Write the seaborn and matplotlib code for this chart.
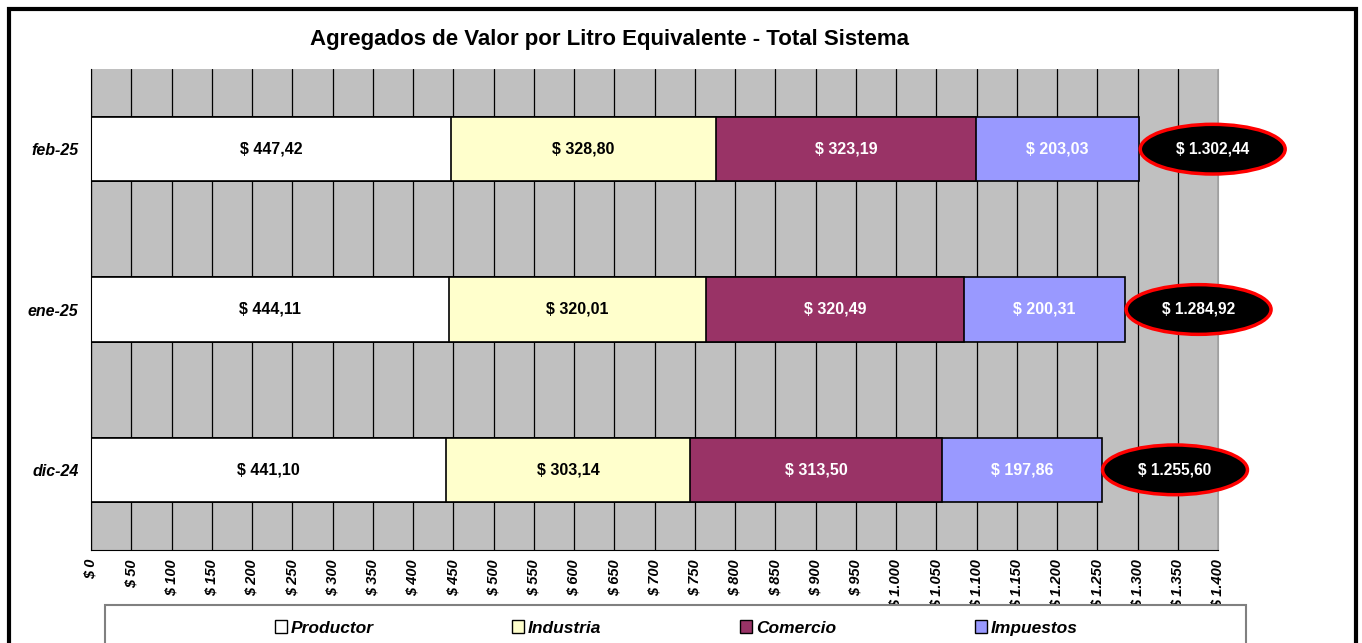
import numpy as np
import pandas as pd
import matplotlib
matplotlib.use("Agg")
import matplotlib.pyplot as plt
import seaborn as sns
from matplotlib.patches import Ellipse, Rectangle, Patch
from matplotlib.ticker import FuncFormatter

meses = ["feb-25", "ene-25", "dic-24"]
productor = [447.42, 444.11, 441.10]
industria = [328.80, 320.01, 303.14]
comercio = [323.19, 320.49, 313.50]
impuestos = [203.03, 200.31, 197.86]

segmentos = ["Productor", "Industria", "Comercio", "Impuestos"]
colores = ["#FFFFFF", "#FFFFCC", "#993366", "#9999FF"]
color_texto = ["black", "black", "white", "white"]


def fmt_pesos(v, dec=2):
    s = f"{v:,.{dec}f}".replace(",", "X").replace(".", ",").replace("X", ".")
    return f"$ {s}"


df = pd.DataFrame({"mes": meses, "Productor": productor, "Industria": industria,
                   "Comercio": comercio, "Impuestos": impuestos})
acum = df[segmentos].cumsum(axis=1)
for s in segmentos:
    df["cum_" + s] = acum[s]
df["total"] = acum["Impuestos"]

sns.set_style("white")
plt.rcParams["font.family"] = ["Liberation Sans", "DejaVu Sans"]
plt.rcParams["text.color"] = "black"
plt.rcParams["xtick.color"] = "black"
plt.rcParams["ytick.color"] = "black"
plt.rcParams["axes.labelcolor"] = "black"

fig = plt.figure(figsize=(13.62, 6.43), dpi=100)
ax = fig.add_axes([91 / 1362, 1 - 550 / 643, (1218 - 91) / 1362, (550 - 69) / 643])
ax.set_facecolor("#C0C0C0")

# stacked bars: draw cumulative totals from largest to smallest
for s, c in reversed(list(zip(segmentos, colores))):
    sns.barplot(data=df, x="cum_" + s, y="mes", order=meses, color=c, saturation=1,
                width=0.4, edgecolor="black", linewidth=1.2, errorbar=None, ax=ax)

# segment labels
for i, row in df.iterrows():
    left = 0
    for s, tc in zip(segmentos, color_texto):
        ax.text(left + row[s] / 2, i, fmt_pesos(row[s]), ha="center", va="center",
                fontsize=11.5, fontweight="bold", color=tc)
        left += row[s]
    # total in an ellipse
    ax.add_patch(Ellipse((row["total"] + 91, i), 180, 0.31, facecolor="black",
                         edgecolor="red", linewidth=2.5, clip_on=False, zorder=5))
    ax.text(row["total"] + 91, i, fmt_pesos(row["total"]), ha="center", va="center",
            fontsize=11.2, fontweight="bold", color="white", zorder=6)

ax.set_xlim(0, 1400)
ax.set_ylim(2.5, -0.5)
ax.set_xticks(np.arange(0, 1401, 50))
ax.xaxis.set_major_formatter(FuncFormatter(lambda v, p: fmt_pesos(v, 0)))
ax.set_axisbelow(True)
ax.xaxis.grid(True, color="black", linewidth=0.9)
ax.yaxis.grid(False)
for lab in ax.get_xticklabels():
    lab.set_rotation(90)
    lab.set_fontweight("bold")
    lab.set_fontstyle("italic")
    lab.set_fontsize(10.5)
    lab.set_va("top")
    lab.set_ha("center")
ax.tick_params(axis="x", direction="out", length=5, width=1, color="black",
               labelcolor="black", pad=1.5)

ax.set_yticks(range(len(meses)))
ax.set_yticklabels(meses, fontweight="bold", fontstyle="italic", fontsize=11.5)
ax.set_yticks([-0.5, 0.5, 1.5, 2.5], minor=True)
ax.tick_params(axis="y", which="major", length=0, pad=9, labelcolor="black")
ax.tick_params(axis="y", which="minor", direction="out", length=5, width=1, color="black")
ax.set_xlabel("")
ax.set_ylabel("")

ax.spines["top"].set_visible(False)
ax.spines["right"].set_color("#A0A0A0")
ax.spines["left"].set_color("black")
ax.spines["bottom"].set_color("black")

fig.suptitle("Agregados de Valor por Litro Equivalente - Total Sistema", x=610 / 1362,
             y=1 - 39 / 643, va="center", fontsize=16, fontweight="bold", color="black")

# outer chart border
fig.add_artist(Rectangle((9 / 1362, -0.1), (1356 - 9) / 1362, 1.1 - 9 / 643,
                         transform=fig.transFigure, fill=False, edgecolor="black",
                         linewidth=3, clip_on=False))
# legend box
fig.add_artist(Rectangle((105 / 1362, -0.1), (1246 - 105) / 1362, 0.1 + 1 - 605 / 643,
                         transform=fig.transFigure, fill=True, facecolor="white",
                         edgecolor="#808080", linewidth=1.5, clip_on=False))
handles = [Patch(facecolor=c, edgecolor="black", linewidth=1) for c in colores]
fig.legend(handles, segmentos, loc="center", bbox_to_anchor=(676 / 1362, 1 - 628 / 643),
           ncol=4, frameon=False, handlelength=0.7, handleheight=0.7, handletextpad=0.2,
           columnspacing=8.0, labelcolor="black",
           prop={"weight": "bold", "style": "italic", "size": 12.5})

fig.savefig("out.png", dpi=100)
